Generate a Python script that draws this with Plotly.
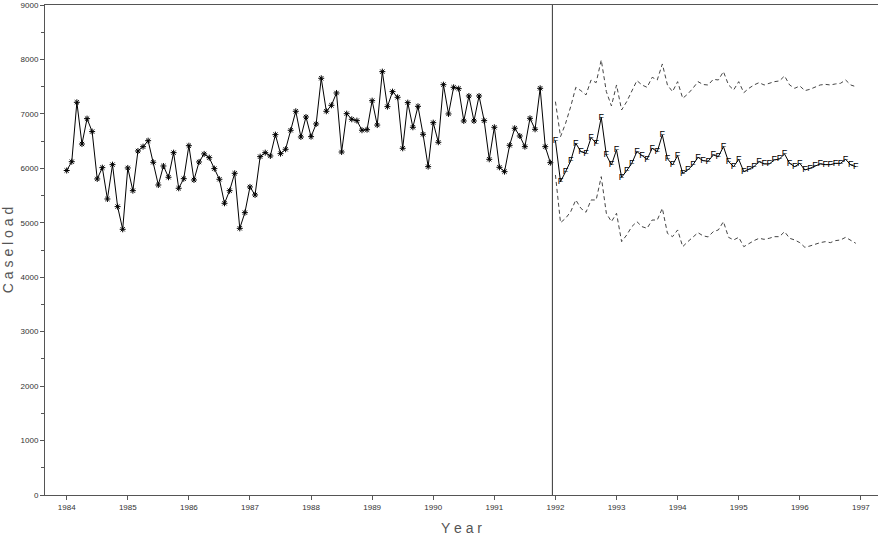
import plotly.graph_objects as go

# Monthly caseload, Jan 1984 - Dec 1991 (actual)
actual = [5960, 6122, 7213, 6447, 6913, 6675, 5805, 6013, 5437, 6068, 5297, 4880,
          6007, 5590, 6319, 6398, 6508, 6111, 5694, 6043, 5836, 6288, 5634, 5810,
          6416, 5786, 6117, 6265, 6196, 5995, 5799, 5358, 5590, 5909, 4898, 5186,
          5658, 5511, 6215, 6288, 6227, 6619, 6270, 6350, 6699, 7048, 6576, 6943,
          6582, 6815, 7654, 7048, 7158, 7384, 6300, 7004, 6901, 6876, 6700, 6710,
          7243, 6795, 7776, 7133, 7409, 7305, 6368, 7207, 6754, 7139, 6625, 6031,
          6839, 6479, 7537, 6999, 7488, 7464, 6870, 7329, 6870, 7329, 6876, 6166,
          6754, 6019, 5939, 6423, 6736, 6594, 6398, 6919, 6717, 7470, 6398, 6104]

# Forecast, Jan 1992 - Dec 1996
forecast = [6508, 5755, 5939, 6135, 6460, 6306, 6276, 6564, 6460, 6937,
            6245, 6062, 6337, 5836, 5957, 6092, 6306, 6227, 6166, 6368,
            6306, 6613, 6178, 6062, 6233, 5909, 5970, 6062, 6203, 6140,
            6130, 6245, 6215, 6398, 6123, 6031, 6166, 5939, 5982, 6031,
            6123, 6080, 6080, 6153, 6172, 6264, 6092, 6031, 6092, 5970,
            6001, 6043, 6080, 6068, 6068, 6092, 6092, 6166, 6062, 6031]

upper = [7225, 6582, 6827, 7133, 7488, 7427, 7348, 7623, 7574, 7990,
         7409, 7146, 7531, 7072, 7225, 7409, 7611, 7531, 7488, 7672,
         7623, 7917, 7531, 7409, 7592, 7286, 7366, 7470, 7592, 7540,
         7530, 7635, 7623, 7776, 7531, 7439, 7592, 7390, 7470, 7531,
         7574, 7531, 7562, 7592, 7605, 7697, 7531, 7470, 7513, 7427,
         7452, 7488, 7531, 7543, 7531, 7550, 7562, 7623, 7531, 7500]

lower = [5878, 5002, 5082, 5204, 5419, 5266, 5193, 5419, 5419, 5847,
         5174, 5021, 5174, 4653, 4776, 4929, 5021, 4929, 4898, 5051,
         5051, 5266, 4806, 4745, 4868, 4561, 4653, 4745, 4818, 4760,
         4740, 4837, 4868, 5021, 4733, 4684, 4733, 4561, 4623, 4672,
         4715, 4696, 4715, 4745, 4745, 4837, 4715, 4684, 4635, 4549,
         4574, 4610, 4635, 4653, 4635, 4672, 4684, 4733, 4684, 4623]

start_actual = 1984
start_forecast = 1992
x_actual = [start_actual + i / 12 for i in range(len(actual))]
x_fc = [start_forecast + i / 12 for i in range(len(forecast))]

year_ticks = list(range(1984, 1998))
y_ticks = list(range(0, 9001, 1000))
split_year = 1991.95

fig = go.Figure()

fig.add_trace(go.Scatter(
    x=x_actual, y=actual, mode="lines+markers",
    line=dict(color="black", width=1),
    marker=dict(symbol="asterisk-open", size=5, color="black",
                line=dict(color="black", width=1)),
    showlegend=False))

fig.add_trace(go.Scatter(
    x=x_fc, y=upper, mode="lines",
    line=dict(color="#444444", width=1, dash="4px,3px"),
    showlegend=False))

fig.add_trace(go.Scatter(
    x=x_fc, y=lower, mode="lines",
    line=dict(color="#444444", width=1, dash="4px,3px"),
    showlegend=False))

fig.add_trace(go.Scatter(
    x=x_fc, y=forecast, mode="lines+text",
    text=["F"] * len(forecast), textposition="middle center",
    textfont=dict(family="Liberation Sans", size=9, color="black"),
    line=dict(color="black", width=1),
    showlegend=False))

fig.add_shape(type="line", xref="x", yref="paper",
              x0=split_year, x1=split_year, y0=0, y1=1,
              line=dict(color="#333333", width=1))

fig.update_layout(
    width=880, height=541,
    margin=dict(l=45, r=2, t=5, b=46),
    paper_bgcolor="white", plot_bgcolor="white",
    font=dict(family="Liberation Sans", color="#333333"),
    xaxis=dict(
        range=[1983.645, 1997.28],
        tickmode="array", tickvals=year_ticks,
        ticktext=[str(y) for y in year_ticks],
        ticks="outside", ticklen=4, tickcolor="#555555",
        tickfont=dict(size=8, color="#333333"),
        showgrid=False, zeroline=False, automargin=False,
        showline=True, linecolor="#555555", linewidth=1, mirror=True,
        title=dict(text="Y e a r", font=dict(size=14, color="#555555"), standoff=12),
    ),
    yaxis=dict(
        range=[0, 9000],
        tickmode="array", tickvals=y_ticks,
        ticks="outside", ticklen=4, tickcolor="#555555",
        tickfont=dict(size=8, color="#333333"),
        minor=dict(dtick=500, ticks="outside", ticklen=3, tickcolor="#555555"),
        showgrid=False, zeroline=False, automargin=False,
        showline=True, linecolor="#555555", linewidth=1,
        title=dict(text="C a s e l o a d", font=dict(size=14, color="#555555"), standoff=3),
    ),
)

fig.write_html("out.html", config={"displayModeBar": False},
               post_script="document.body.style.margin='0';")
